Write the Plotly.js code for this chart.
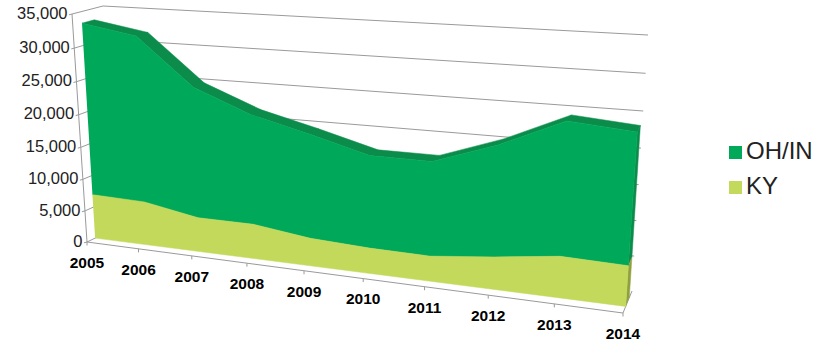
<!DOCTYPE html>
<html>
<head>
<meta charset="utf-8">
<script src="https://cdn.plot.ly/plotly-3.0.1.min.js"></script>
<style>html,body{margin:0;padding:0;background:#fff}#chart{width:817px;height:346px}</style>
</head>
<body>
<div id="chart"></div>
<script>
// Annual volumes per region, drawn as a stacked area with a 3-D look.
const years = [2005, 2006, 2007, 2008, 2009, 2010, 2011, 2012, 2013, 2014];
const ky    = [7000, 6800, 5300, 5300, 4200, 3800, 3700, 4700, 5900, 5700];
const ohIn  = [26300, 25100, 19700, 16400, 15400, 13500, 13600, 15700, 18500, 18000];
const valueTicks = [0, 5000, 10000, 15000, 20000, 25000, 30000, 35000];
const valueMax = 35000;

const COLORS = {
  ohFront: '#00A859', ohTop: '#0B8C4A',
  kyFront: '#C3D95B', kySide: '#8FA03C',
  grid: '#9A9A9A', text: '#222222', axisText: '#000000'
};

// Maps the unit square onto a screen quadrilateral (p00, p10, p11, p01).
function quadMap(p00, p10, p11, p01) {
  const dx1 = p10[0] - p11[0], dx2 = p01[0] - p11[0], sx = p00[0] - p10[0] + p11[0] - p01[0];
  const dy1 = p10[1] - p11[1], dy2 = p01[1] - p11[1], sy = p00[1] - p10[1] + p11[1] - p01[1];
  const det = dx1 * dy2 - dx2 * dy1;
  const g = (sx * dy2 - dx2 * sy) / det, h = (dx1 * sy - sx * dy1) / det;
  const a = p10[0] - p00[0] + g * p10[0], b = p01[0] - p00[0] + h * p01[0], c = p00[0];
  const d = p10[1] - p00[1] + g * p10[1], e = p01[1] - p00[1] + h * p01[1], f = p00[1];
  return (u, v) => {
    const w = g * u + h * v + 1;
    return [(a * u + b * v + c) / w, (d * u + e * v + f) / w];
  };
}

// Front and back planes of the chart box, in pixels of the plotting surface.
const frontPlane = quadMap([87, 242], [623, 313], [641, 47], [72, 14]);
const backPlane  = quadMap([114, 229], [632, 291], [648, 35], [103, 6]);

const AREA_NEAR = 0.3, AREA_FAR = 0.7;

function project(i, value, depth) {
  const u = i / (years.length - 1), v = value / valueMax;
  const f = frontPlane(u, v), b = backPlane(u, v);
  return [f[0] + (b[0] - f[0]) * depth, f[1] + (b[1] - f[1]) * depth];
}

function polyTrace(points, color) {
  return {
    x: points.map(p => p ? p[0] : null), y: points.map(p => p ? p[1] : null),
    mode: 'lines', fill: 'toself', fillcolor: color,
    line: {width: 0.5, color: color}, hoverinfo: 'skip', showlegend: false
  };
}

function lineTrace(points, color, width) {
  return {
    x: points.map(p => p ? p[0] : null), y: points.map(p => p ? p[1] : null),
    mode: 'lines', line: {width: width, color: color}, hoverinfo: 'skip', showlegend: false
  };
}

const last = years.length - 1;
const total = ohIn.map((v, i) => v + ky[i]);
const traces = [];

// Box frame: gridlines on the back wall and side wall, tick marks, axis lines.
const gridPts = [];
valueTicks.forEach(t => {
  if (t > 0) {
    gridPts.push(project(0, t, 1), project(last, t, 1), null);
  }
  const fp = project(0, t, 0);
  gridPts.push([fp[0] - 3, fp[1] + 0.8], fp, project(0, t, 1), null);
});
traces.push(lineTrace(gridPts, COLORS.grid, 1));

const axisPts = [project(0, valueMax, 0), project(0, 0, 0), project(last, 0, 0), project(last, 0, 1), null];
years.forEach((y, i) => {
  const p = project(i, 0, 0);
  axisPts.push(p, [p[0], p[1] + 3.5], null);
});
traces.push(lineTrace(axisPts, COLORS.grid, 1));

// Top surface of the stack, behind the front faces.
const topFaces = [];
for (let i = 0; i < last; i++) {
  topFaces.push(project(i, total[i], AREA_NEAR), project(i + 1, total[i + 1], AREA_NEAR),
                project(i + 1, total[i + 1], AREA_FAR), project(i, total[i], AREA_FAR),
                project(i, total[i], AREA_NEAR), null);
}
traces.push(polyTrace(topFaces, COLORS.ohTop));

// Right-hand end faces of each band.
traces.push(polyTrace([project(last, ky[last], AREA_NEAR), project(last, total[last], AREA_NEAR),
                       project(last, total[last], AREA_FAR), project(last, ky[last], AREA_FAR)], COLORS.ohTop));
traces.push(polyTrace([project(last, 0, AREA_NEAR), project(last, ky[last], AREA_NEAR),
                       project(last, ky[last], AREA_FAR), project(last, 0, AREA_FAR)], COLORS.kySide));

// Front faces of the two bands.
const kyTop = years.map((y, i) => project(i, ky[i], AREA_NEAR));
const kyBase = years.map((y, i) => project(i, 0, AREA_NEAR)).reverse();
const totalTop = years.map((y, i) => project(i, total[i], AREA_NEAR));
traces.push(polyTrace(totalTop.concat(kyTop.slice().reverse()), COLORS.ohFront));
traces.push(polyTrace(kyTop.concat(kyBase), COLORS.kyFront));

// Value labels beside the left axis.
const valuePos = valueTicks.map(t => project(0, t, 0));
traces.push({
  x: valuePos.map(p => p[0] - 4.5), y: valuePos.map(p => p[1] + 0.5),
  mode: 'text', text: valueTicks.map(t => t.toLocaleString('en-US')),
  textposition: 'middle left', cliponaxis: false,
  textfont: {family: 'Liberation Sans, Arial, sans-serif', size: 16.5, color: COLORS.text},
  hoverinfo: 'skip', showlegend: false
});

// Year labels under the floor edge.
const yearPos = years.map((y, i) => project(i, 0, 0));
traces.push({
  x: yearPos.map(p => p[0]), y: yearPos.map(p => p[1] + 22),
  mode: 'text', text: years.map(String), textposition: 'middle center', cliponaxis: false,
  textfont: {family: 'Liberation Sans, Arial, sans-serif', size: 15.5, color: COLORS.axisText, weight: 700},
  hoverinfo: 'skip', showlegend: false
});

// Key at the right of the plot.
const keyNames = ['OH/IN', 'KY'];
const keyColors = [COLORS.ohFront, COLORS.kyFront];
const keySwatchX = [735.5, 735.5], keyY = [152.5, 187.5];
traces.push({
  x: keySwatchX, y: keyY, mode: 'markers',
  marker: {symbol: 'square', size: 13, color: keyColors, line: {width: 0}},
  hoverinfo: 'skip', showlegend: false
});
traces.push({
  x: [746, 746], y: keyY, mode: 'text', text: keyNames, textposition: 'middle right',
  cliponaxis: false,
  textfont: {family: 'Liberation Sans, Arial, sans-serif', size: 24, color: COLORS.text},
  hoverinfo: 'skip', showlegend: false
});

const layout = {
  width: 817, height: 346,
  margin: {l: 0, r: 0, t: 0, b: 0},
  paper_bgcolor: '#ffffff', plot_bgcolor: '#ffffff',
  showlegend: false,
  xaxis: {range: [0, 817], visible: false, fixedrange: true},
  yaxis: {range: [346, 0], visible: false, fixedrange: true}
};

Plotly.newPlot('chart', traces, layout, {displayModeBar: false, staticPlot: true});
</script>
</body>
</html>
